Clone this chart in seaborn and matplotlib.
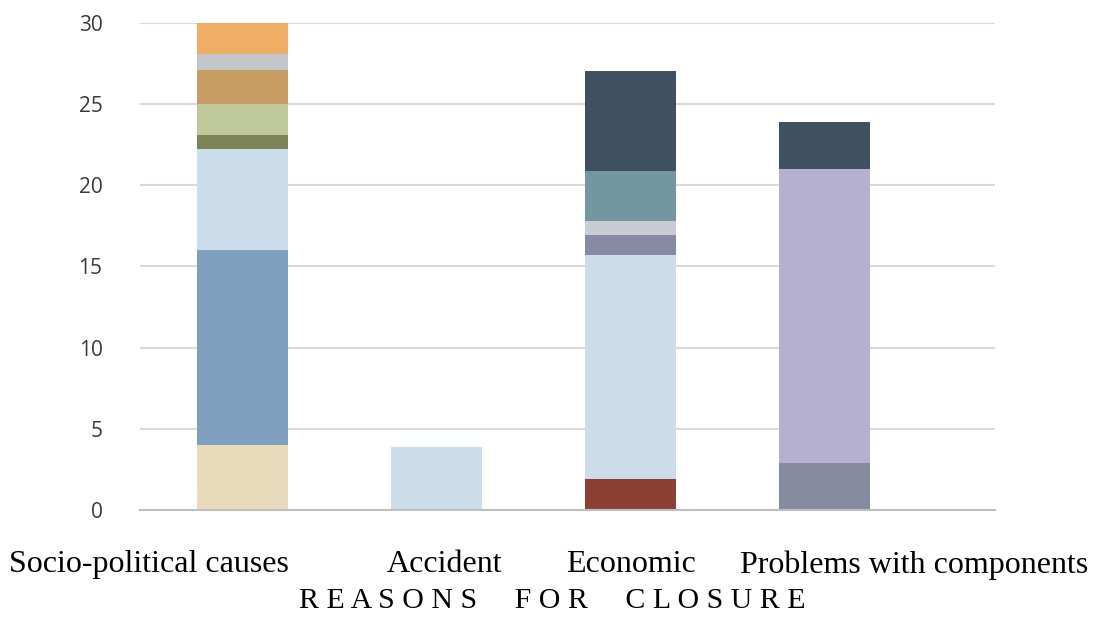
import matplotlib
matplotlib.use("Agg")
import matplotlib.pyplot as plt
import matplotlib.transforms as mtransforms
import seaborn as sns

# Closure reasons and the stacked sub-cause counts for each one (bottom to top)
categories = ["Socio-political causes", "Accident", "Economic", "Problems with components"]

socio_values = [4.0, 12.0, 6.2, 0.9, 1.9, 2.1, 1.0, 1.9]
socio_colors = ["#E8DABA", "#7F9FBF", "#CBDCEA", "#7D8459", "#BFC99B", "#C89D63", "#C3C7CA", "#EFAD66"]

accident_values = [3.9]
accident_colors = ["#CBDCEA"]

economic_values = [1.9, 13.8, 1.2, 0.9, 3.1, 6.1]
economic_colors = ["#8A4033", "#CBDCEA", "#868AA2", "#C9CDD3", "#7396A0", "#3F5161"]

components_values = [2.9, 18.1, 2.9]
components_colors = ["#878BA0", "#B5B0D0", "#3F5161"]

y_ticks = [0, 5, 10, 15, 20, 25, 30]
axis_title = "R E A S O N S     F O R     C L O S U R E"

stacks = [
    (categories[0], socio_values, socio_colors),
    (categories[1], accident_values, accident_colors),
    (categories[2], economic_values, economic_colors),
    (categories[3], components_values, components_colors),
]

sns.set_theme(style="white")
fig = plt.figure(figsize=(10.94, 6.27), dpi=100)
ax = fig.add_axes([0.128, 0.1866, 0.7815, 0.7772])

for cat, values, colors in stacks:
    base = 0.0
    for v, c in zip(values, colors):
        sns.barplot(x=[cat], y=[v], order=categories, bottom=base, color=c,
                    saturation=1, width=0.47, edgecolor="none", linewidth=0,
                    errorbar=None, ax=ax, zorder=3)
        base += v

ax.set_xlim(-0.53, 3.88)
ax.set_ylim(0, 30)
ax.set_yticks(y_ticks)
ax.set_yticklabels([str(t) for t in y_ticks], fontsize=15, color="#3A3A3A",
                   family="Open Sans")
ax.yaxis.grid(True, color="#D9D9D9", linewidth=1.5, zorder=0)
ax.set_axisbelow(True)
ax.tick_params(axis="y", length=0, pad=27)
ax.tick_params(axis="x", length=0, pad=29)
for side in ["top", "right", "left"]:
    ax.spines[side].set_visible(False)
ax.spines["bottom"].set_color("#BFBFBF")
ax.spines["bottom"].set_linewidth(1.5)
ax.spines["bottom"].set_zorder(4)

ax.set_xticks(range(len(categories)))
ax.set_xticklabels(categories, fontsize=23, family="Liberation Serif", color="black")
# shift the outer labels so the long names sit clear of each other
shifts_px = [-94, 8, 0, 90]
for lab, dx in zip(ax.get_xticklabels(), shifts_px):
    lab.set_transform(lab.get_transform() +
                      mtransforms.ScaledTranslation(dx / 100, 0, fig.dpi_scale_trans))

ax.set_xlabel("")
ax.set_ylabel("")
fig.text(552 / 1094, 1 - 601 / 627, axis_title, ha="center", va="center",
         fontsize=21.5, family="Liberation Serif", color="black")

fig.savefig("out.png", dpi=100, facecolor="white")
